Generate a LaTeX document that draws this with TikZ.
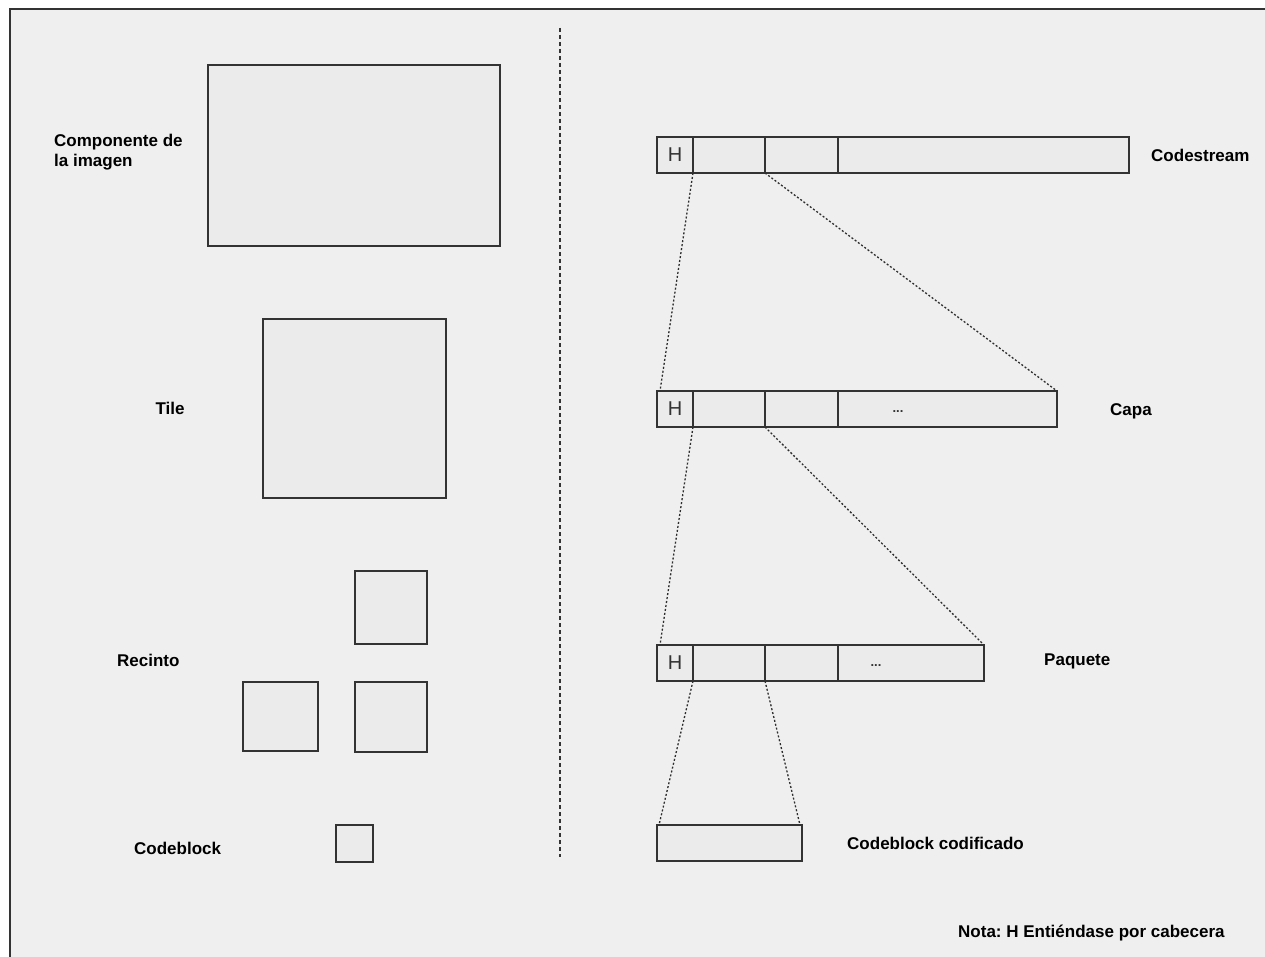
\documentclass[tikz,border=0pt]{standalone}
\usepackage{fontspec}
\setmainfont{Liberation Sans}
\definecolor{bgc}{HTML}{EFEFEF}
\definecolor{boxc}{HTML}{EBEBEB}
\definecolor{linec}{HTML}{333333}
\frenchspacing
\begin{document}
\begin{tikzpicture}[x=1pt,y=-1pt,
  box/.style={draw=linec, fill=boxc, line width=1.2pt, inner sep=0pt, outer sep=0pt},
  seg/.style={box, minimum height=36pt, anchor=west, font=\fontsize{20}{24}\selectfont, text=linec},
  lbl/.style={font=\bfseries\fontsize{17}{20}\selectfont, text=black, inner sep=0pt},
  dots/.style={font=\bfseries\fontsize{13}{15}\selectfont, text=linec, inner sep=0pt, anchor=base},
  conn/.style={draw=linec!90!black, line width=1.3pt, dash pattern=on 2pt off 2pt},
  divider/.style={draw=linec, line width=1.1pt, dash pattern=on 4pt off 3pt}]
\useasboundingbox (0,0) rectangle (1265,957);
\fill[white] (0,0) rectangle (1265,957);
\fill[bgc] (10,9) rectangle (1265,957);
\draw[linec, line width=1.5pt] (10,957) -- (10,9) -- (1265,9);

% left column
\node[box, minimum width=292pt, minimum height=181pt] (comp) at (354,155.5) {};
\node[box, minimum width=183pt, minimum height=179pt] (tile) at (354.5,408.5) {};
\node[box, minimum width=72pt, minimum height=73pt] (rec1) at (391,607.5) {};
\node[box, minimum width=75pt, minimum height=69pt] (rec2) at (280.5,716.5) {};
\node[box, minimum width=72pt, minimum height=70pt] (rec3) at (391,717) {};
\node[box, minimum width=37pt, minimum height=37pt] (cb) at (354.5,843.5) {};

\node[lbl, anchor=north west, align=left] (lcomp) at (54,134) {Componente de\\la imagen};
\node[lbl, anchor=base] (ltile) at (170,414) {Tile};
\node[lbl, anchor=base west] (lrec) at (117,666) {Recinto};
\node[lbl, anchor=base west] (lcb) at (134,854) {Codeblock};

% divider
\coordinate (dtop) at (560,28);
\coordinate (dbot) at (560,857);
\draw[divider] (dtop) -- (dbot);

% Codestream
\node[seg, minimum width=36pt] (csH) at (657,155) {H};
\node[seg, minimum width=72pt] (cs1) at (csH.east) {};
\node[seg, minimum width=73pt] (cs2) at (cs1.east) {};
\node[seg, minimum width=291pt] (cs3) at (cs2.east) {};
\node[lbl, anchor=base west] (lcs) at (1151,162) {Codestream};

% Capa
\node[seg, minimum width=36pt] (capH) at (657,409) {H};
\node[seg, minimum width=72pt] (cap1) at (capH.east) {};
\node[seg, minimum width=73pt] (cap2) at (cap1.east) {};
\node[seg, minimum width=219pt] (cap3) at (cap2.east) {};
\node[dots] (capdots) at (898,412) {...};
\node[lbl, anchor=base west] (lcap) at (1110,415) {Capa};

% Paquete
\node[seg, minimum width=36pt] (paqH) at (657,663) {H};
\node[seg, minimum width=72pt] (paq1) at (paqH.east) {};
\node[seg, minimum width=73pt] (paq2) at (paq1.east) {};
\node[seg, minimum width=146pt] (paq3) at (paq2.east) {};
\node[dots] (paqdots) at (876,666) {...};
\node[lbl, anchor=base west] (lpaq) at (1044,665) {Paquete};

% Codeblock codificado
\node[box, minimum width=145pt, minimum height=36pt, anchor=west] (cbc) at (657,843) {};
\node[lbl, anchor=base west] (lcbc) at (847,849) {Codeblock codificado};

% connectors
\draw[conn] (csH.south east) -- ([xshift=3pt]capH.north west);
\draw[conn] (cs1.south east) -- (cap3.north east);
\draw[conn] (capH.south east) -- ([xshift=3pt]paqH.north west);
\draw[conn] (cap1.south east) -- (paq3.north east);
\draw[conn] (paqH.south east) -- ([xshift=2pt]cbc.north west);
\draw[conn] (paq1.south east) -- ([xshift=-2pt]cbc.north east);

\node[lbl, anchor=base west] (nota) at (958,937) {Nota: H Entiéndase por cabecera};
\end{tikzpicture}
\end{document}
